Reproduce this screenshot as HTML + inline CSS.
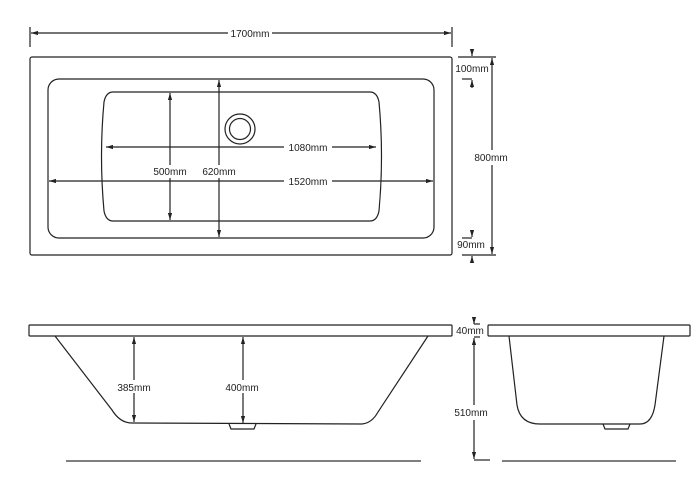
<!DOCTYPE html>
<html><head><style>
html,body{margin:0;padding:0;background:#fff;width:700px;height:481px;overflow:hidden}
svg{display:block}
text{font-family:"Liberation Sans",sans-serif;font-size:10px;fill:#222}
</style></head><body>
<svg width="700" height="481" viewBox="0 0 700 481" xmlns="http://www.w3.org/2000/svg">
<defs>
<marker id="a" viewBox="0 0 10 10" refX="10" refY="5" markerWidth="6" markerHeight="6" orient="auto-start-reverse"><path d="M0,2 L10,5 L0,8 z" fill="#222"/></marker>
</defs>
<g stroke="#222" fill="none" stroke-width="1.2">
<!-- top view -->
<line x1="30" y1="27" x2="30" y2="47"/><line x1="452" y1="27" x2="452" y2="47"/>
<line x1="31" y1="33" x2="228" y2="33" marker-start="url(#a)"/>
<line x1="272" y1="33" x2="451" y2="33" marker-end="url(#a)"/>
<rect x="30" y="57" width="422" height="198" rx="2"/>
<rect x="48" y="79" width="386" height="159" rx="11"/>
<path d="M113,92 L370,92 Q377,92 379,102 Q384,156 379,211 Q377,221 370,221 L113,221 Q106,221 104,211 Q99,156 104,102 Q106,92 113,92 Z"/>
<circle cx="240" cy="129" r="15"/><circle cx="240" cy="129" r="10.5"/>
<line x1="106" y1="147" x2="284" y2="147" marker-start="url(#a)"/>
<line x1="332" y1="147" x2="376" y2="147" marker-end="url(#a)"/>
<line x1="49" y1="181" x2="284" y2="181" marker-start="url(#a)"/>
<line x1="332" y1="181" x2="433" y2="181" marker-end="url(#a)"/>
<line x1="170" y1="93" x2="170" y2="165" marker-start="url(#a)"/>
<line x1="170" y1="178" x2="170" y2="220" marker-end="url(#a)"/>
<line x1="219" y1="80" x2="219" y2="165" marker-start="url(#a)"/>
<line x1="219" y1="178" x2="219" y2="237" marker-end="url(#a)"/>
<line x1="458" y1="57" x2="496" y2="57"/>
<line x1="492" y1="58" x2="492" y2="150" marker-start="url(#a)"/>
<line x1="492" y1="165" x2="492" y2="254" marker-end="url(#a)"/>
<line x1="462" y1="255" x2="496" y2="255"/>
<line x1="472" y1="49" x2="472" y2="56" marker-end="url(#a)"/>
<line x1="462" y1="79" x2="472" y2="79"/><line x1="472" y1="88" x2="472" y2="80" marker-end="url(#a)"/>
<line x1="462" y1="238" x2="472" y2="238"/><line x1="472" y1="230" x2="472" y2="237" marker-end="url(#a)"/>
<line x1="472" y1="263" x2="472" y2="256" marker-end="url(#a)"/>
<!-- side view -->
<rect x="29" y="325" width="423" height="11" rx="1"/>
<path d="M55,336 L112,410 Q120,423 132,423 L362,424 Q372,423 378,412 L428,336"/>
<path d="M229,424 L231,429 L254,429 L256,424"/>
<line x1="134" y1="337" x2="134" y2="380" marker-start="url(#a)"/>
<line x1="134" y1="393" x2="134" y2="422" marker-end="url(#a)"/>
<line x1="243" y1="337" x2="243" y2="380" marker-start="url(#a)"/>
<line x1="243" y1="393" x2="243" y2="423" marker-end="url(#a)"/>
<!-- end view -->
<rect x="488" y="325" width="202" height="11" rx="1"/>
<path d="M509,336 L517,405 Q520,424 540,424 L640,424 Q652,424 655,405 L664,336"/>
<path d="M603,424 L605,429 L628,429 L630,424"/>
<line x1="474" y1="318" x2="474" y2="324" marker-end="url(#a)"/>
<line x1="474" y1="324" x2="480" y2="324"/>
<line x1="474" y1="337" x2="480" y2="337"/>
<line x1="474" y1="338" x2="474" y2="405" marker-start="url(#a)"/>
<line x1="474" y1="420" x2="474" y2="459" marker-end="url(#a)"/>
<line x1="474" y1="460" x2="490" y2="460"/>
</g>
<g stroke="#555" stroke-width="1.5">
<line x1="66" y1="461" x2="421" y2="461"/>
<line x1="502" y1="461" x2="676" y2="461"/>
</g>
<text x="250" y="37" text-anchor="middle">1700mm</text>
<text x="308" y="151" text-anchor="middle">1080mm</text>
<text x="308" y="185" text-anchor="middle">1520mm</text>
<text x="170" y="175" text-anchor="middle">500mm</text>
<text x="219" y="175" text-anchor="middle">620mm</text>
<text x="472" y="72" text-anchor="middle">100mm</text>
<text x="491" y="161" text-anchor="middle">800mm</text>
<text x="471" y="248" text-anchor="middle">90mm</text>
<text x="134" y="391" text-anchor="middle">385mm</text>
<text x="242" y="391" text-anchor="middle">400mm</text>
<text x="470" y="334" text-anchor="middle">40mm</text>
<text x="471" y="416" text-anchor="middle">510mm</text>
</svg>
</body></html>
